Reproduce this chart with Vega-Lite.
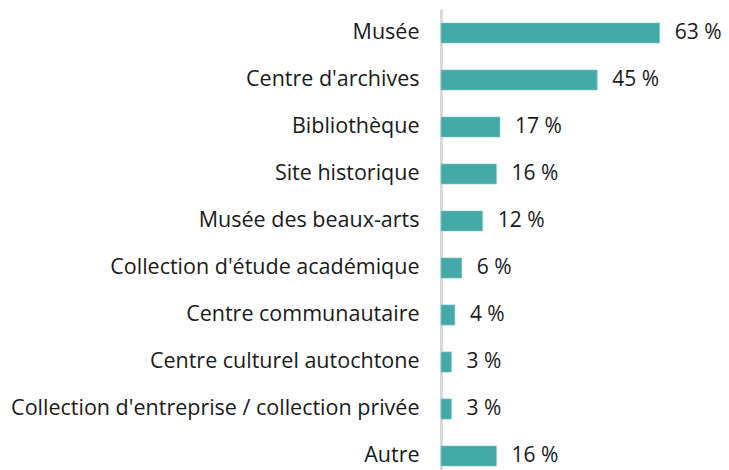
{
  "$schema": "https://vega.github.io/schema/vega-lite/v6.json",
  "autosize": {"type": "none"},
  "width": 243,
  "height": 471,
  "padding": {"left": 441, "top": 9, "right": 45, "bottom": 0},
  "background": "white",
  "config": {"view": {"stroke": null}, "font": "Open Sans"},
  "data": {
    "values": [
      {"cat": "Musée", "pct": 63},
      {"cat": "Centre d'archives", "pct": 45},
      {"cat": "Bibliothèque", "pct": 17},
      {"cat": "Site historique", "pct": 16},
      {"cat": "Musée des beaux-arts", "pct": 12},
      {"cat": "Collection d'étude académique", "pct": 6},
      {"cat": "Centre communautaire", "pct": 4},
      {"cat": "Centre culturel autochtone", "pct": 3},
      {"cat": "Collection d'entreprise / collection privée", "pct": 3},
      {"cat": "Autre", "pct": 16}
    ]
  },
  "encoding": {
    "y": {
      "field": "cat", "type": "nominal", "sort": null,
      "scale": {"paddingInner": 0.57, "paddingOuter": 0.296},
      "axis": {
        "title": null, "ticks": false, "labelPadding": 22,
        "labelFontSize": 21.5, "labelColor": "#1a1a1a", "labelLimit": 500,
        "domainColor": "#d9d9d9", "domainWidth": 3, "grid": false
      }
    },
    "x": {
      "field": "pct", "type": "quantitative",
      "scale": {"domain": [0, 70], "nice": false},
      "axis": null
    }
  },
  "layer": [
    {"mark": {"type": "bar", "color": "#44a9a7", "stroke": "#8fd0cd", "strokeWidth": 0.6}},
    {
      "mark": {"type": "text", "align": "left", "dx": 15, "fontSize": 21, "color": "#1a1a1a", "baseline": "middle"},
      "encoding": {"text": {"field": "label"}}
    }
  ],
  "transform": [{"calculate": "datum.pct + ' %'", "as": "label"}]
}
